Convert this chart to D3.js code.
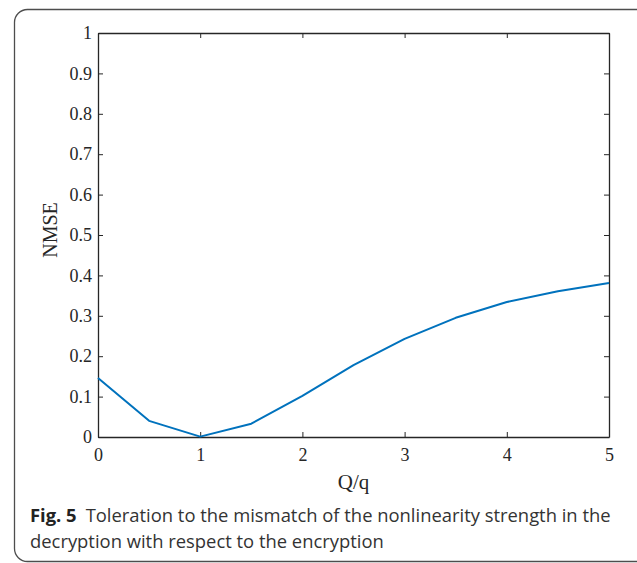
<!DOCTYPE html>
<html>
<head>
<meta charset="utf-8">
<script src="https://cdn.jsdelivr.net/npm/d3@7"></script>
<style>
  body { margin: 0; background: #fff; }
</style>
</head>
<body>
<div id="container"></div>
<script>
const ratios = [0, 0.5, 1, 1.5, 2, 2.5, 3, 3.5, 4, 4.5, 5]
const nmse = [0.146, 0.040, 0.001, 0.033, 0.102, 0.178, 0.243, 0.295, 0.334, 0.361, 0.381]
const xTicks = [0, 1, 2, 3, 4, 5]
const yTicks = [0, 0.1, 0.2, 0.3, 0.4, 0.5, 0.6, 0.7, 0.8, 0.9, 1]
const captionBold = 'Fig. 5'
const captionLines = ['Toleration to the mismatch of the nonlinearity strength in the',
    'decryption with respect to the encryption']

const width = 637
const height = 563
const margin = { top: 33, right: 28, bottom: 126, left: 98 }

const svg = d3.select('#container').append('svg')
    .attr('width', width).attr('height', height)

// frame around figure
svg.append('rect')
    .attr('x', 14.5).attr('y', 9.5)
    .attr('width', 640).attr('height', 552)
    .attr('rx', 13)
    .attr('fill', 'none').attr('stroke', '#4d4d4d').attr('stroke-width', 1.3)

const xScale = d3.scaleLinear().domain([0, 5]).range([margin.left, width - margin.right])
const yScale = d3.scaleLinear().domain([0, 1]).range([height - margin.bottom, margin.top])

const axisColor = '#262626'
const tickFont = '"Liberation Serif", "Times New Roman", serif'

function styleAxis(g, hideText) {
    g.attr('font-family', tickFont).attr('font-size', 18)
    g.select('.domain').attr('stroke', axisColor).attr('stroke-width', 1.3)
    g.selectAll('.tick line').attr('stroke', axisColor).attr('stroke-width', 1)
    g.selectAll('.tick text').attr('fill', axisColor)
        .style('font-family', tickFont).style('font-size', '18px')
    if (hideText) g.selectAll('.tick text').remove()
}

// x axis
svg.append('g')
    .attr('transform', `translate(0, ${yScale(0)})`)
    .call(d3.axisBottom(xScale).tickValues(xTicks).tickSizeInner(-5).tickSizeOuter(0).tickPadding(11).tickFormat(d3.format('d')))
    .call(g => styleAxis(g, false))
svg.append('g')
    .attr('transform', `translate(0, ${yScale(1)})`)
    .call(d3.axisTop(xScale).tickValues(xTicks).tickSizeInner(-5).tickSizeOuter(0))
    .call(g => styleAxis(g, true))

// y axis
const yFmt = d => d === 0 ? '0' : d === 1 ? '1' : d3.format('.1f')(d)
svg.append('g')
    .attr('transform', `translate(${xScale(0)}, 0)`)
    .call(d3.axisLeft(yScale).tickValues(yTicks).tickSizeInner(-5).tickSizeOuter(0).tickPadding(6).tickFormat(yFmt))
    .call(g => styleAxis(g, false))
svg.append('g')
    .attr('transform', `translate(${xScale(5)}, 0)`)
    .call(d3.axisRight(yScale).tickValues(yTicks).tickSizeInner(-5).tickSizeOuter(0))
    .call(g => styleAxis(g, true))

// line
const line = d3.line().x((d, i) => xScale(ratios[i])).y(d => yScale(d))
svg.append('path')
    .datum(nmse)
    .attr('d', line)
    .attr('fill', 'none')
    .attr('stroke', '#0072BD')
    .attr('stroke-width', 2)
    .attr('stroke-linejoin', 'round')

// axis labels
svg.append('text')
    .attr('x', (xScale(0) + xScale(5)) / 2).attr('y', 489)
    .attr('text-anchor', 'middle')
    .style('font-family', tickFont).style('font-size', '21px').attr('fill', axisColor)
    .text('Q/q')

svg.append('text')
    .attr('transform', `translate(57, 230) rotate(-90)`)
    .attr('text-anchor', 'middle')
    .style('font-family', tickFont).style('font-size', '20px').attr('fill', axisColor)
    .text('NMSE')

// caption
const capFont = '"Open Sans", "Noto Sans", sans-serif'
const cap = svg.append('text')
    .attr('x', 30).attr('y', 522)
    .style('font-family', capFont).style('font-size', '18.4px').attr('fill', '#333')
cap.append('tspan').attr('font-weight', 'bold').attr('fill', '#222').text(captionBold)
cap.append('tspan').attr('dx', 9).text(captionLines[0])

svg.append('text')
    .attr('x', 30).attr('y', 548)
    .style('font-family', capFont).style('font-size', '18.4px').attr('fill', '#333')
    .text(captionLines[1])
</script>
</body>
</html>
